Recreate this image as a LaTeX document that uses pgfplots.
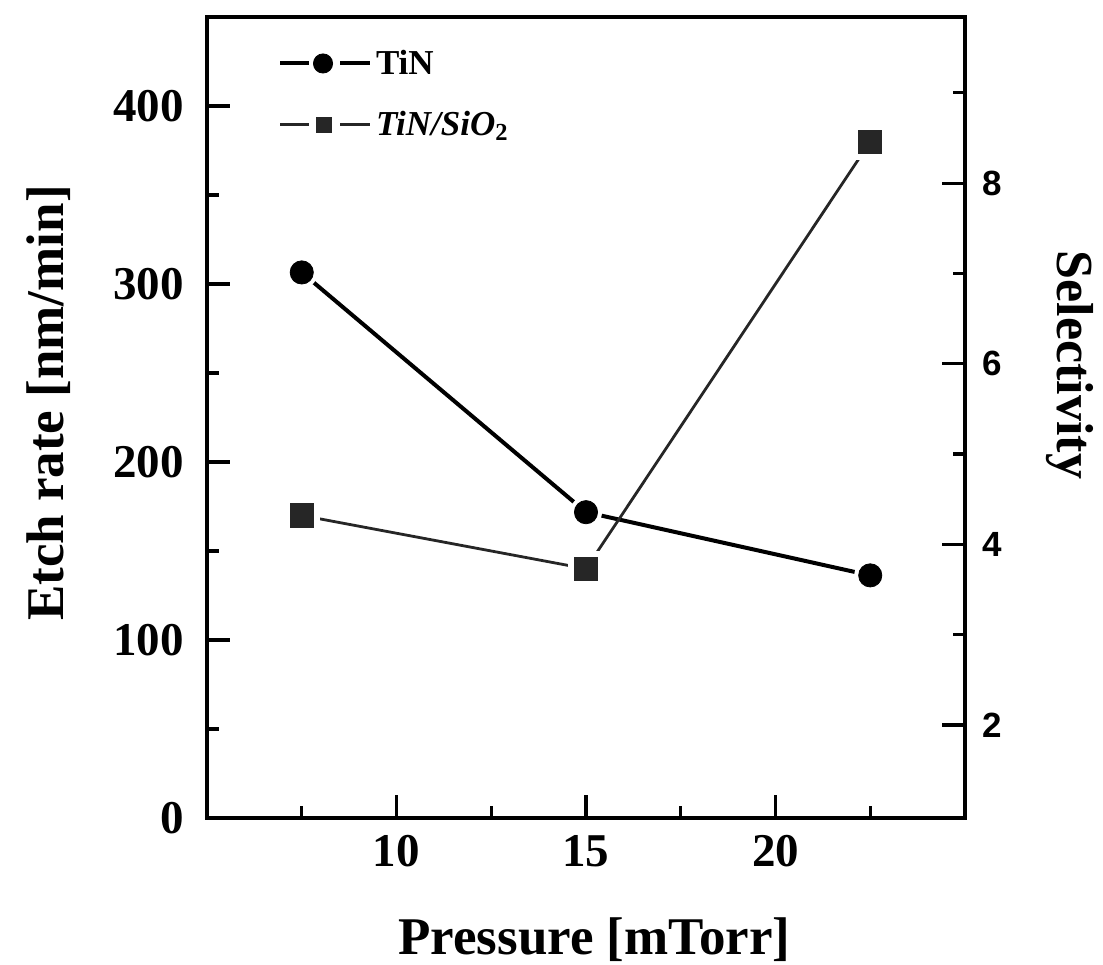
\documentclass[border=0pt]{standalone}
\usepackage{fontspec}
\setmainfont{Liberation Serif}
\newfontfamily\arialfont{Liberation Sans}
\usepackage{pgfplots}
\pgfplotsset{compat=1.18}
\usepackage{pgfplotstable}

% Etch rate of TiN [nm/min] versus pressure [mTorr]
\pgfplotstableread{
p rate
7.5  306.5
15   171.8
22.5 136.3
}\tinrate
% TiN/SiO2 etch selectivity versus pressure [mTorr]
\pgfplotstableread{
p sel
7.5  4.32
15   3.73
22.5 8.46
}\selectivity

\begin{document}
\begin{tikzpicture}
\pgfplotsset{
  common/.style={
    scale only axis, width=379pt, height=400.5pt,
    xmin=5, xmax=25,
    axis line style={line width=1.8pt},
    tick style={line width=1.6pt, black},
    major tick length=11.5pt, minor tick length=6pt,
    tick align=inside,
    /pgf/number format/assume math mode=true,
  }
}
\begin{axis}[common, name=ax,
  ymin=0, ymax=450,
  xtick={10,15,20}, minor xtick={7.5,12.5,17.5,22.5},
  ytick={0,100,200,300,400}, minor ytick={50,150,250,350},
  xtick pos=bottom, ytick pos=left,
  ticklabel style={font=\bfseries\fontsize{23.5}{23.5}\selectfont},
  xticklabel style={yshift=-5pt},
  yticklabel style={xshift=-8pt},
  xlabel={Pressure [mTorr]},
  ylabel={Etch rate [nm/min]},
  label style={font=\bfseries\fontsize{26.5}{26.5}\selectfont},
  xlabel style={at={(axis description cs:0.511,-0.152)}, anchor=center},
  ylabel style={at={(axis description cs:-0.2084,0.518)}, anchor=center},
]
  % line, then a white halo round each symbol, then the symbol
  \addplot[black, line width=2pt, no markers] table[x=p, y=rate] {\tinrate};
  \addplot[only marks, mark=*, mark size=7.5pt, mark options={draw=white, fill=white, line width=1pt}] table[x=p, y=rate] {\tinrate};
  \addplot[only marks, mark=*, mark size=5.8pt, mark options={draw=black, fill=black, line width=0.4pt}] table[x=p, y=rate] {\tinrate};
\end{axis}

\begin{axis}[common,
  ymin=0.97, ymax=9.84,
  axis x line=none, axis y line*=right,
  ytick={2,4,6,8}, minor ytick={3,5,7,9},
  yticklabel pos=right,
  yticklabel style={font=\arialfont\bfseries\fontsize{17.5}{17.5}\selectfont, anchor=west, xshift=5pt},
  ylabel={Selectivity},
  ylabel style={font=\bfseries\fontsize{26}{26}\selectfont,
    at={(axis description cs:1.1385,0.5655)}, anchor=center, rotate=180},
  legend style={draw=none, fill=none, at={(rel axis cs:0.0937,0.964)}, anchor=north west,
    inner sep=0pt, outer sep=0pt, row sep=13pt,
    font=\bfseries\fontsize{17.5}{17.5}\selectfont},
  legend cell align=left,
]
  \addplot[black!85, line width=1.4pt, no markers, forget plot] table[x=p, y=sel] {\selectivity};
  \addplot[only marks, mark=square*, mark size=8.5pt, mark options={draw=white, fill=white, line width=1pt}, forget plot] table[x=p, y=sel] {\selectivity};
  \addplot[only marks, mark=square*, mark size=5.8pt, mark options={draw=black!85, fill=black!85, line width=0.4pt}, forget plot] table[x=p, y=sel] {\selectivity};

  \addlegendimage{legend image code/.code={
    \draw[black, line width=2pt] (0pt,0pt) -- (14.5pt,0pt) (30pt,0pt) -- (45pt,0pt);
    \fill[black] (21.5pt,0pt) circle (4.8pt);}}
  \addlegendentry{TiN}
  \addlegendimage{legend image code/.code={
    \draw[black!85, line width=1.3pt] (0pt,0pt) -- (14.5pt,0pt) (30pt,0pt) -- (45pt,0pt);
    \fill[black!85] (18pt,-3.75pt) rectangle (25.5pt,3.75pt);}}
  \addlegendentry{\itshape TiN/SiO\textsubscript{\upshape 2}}
\end{axis}

\pgfresetboundingbox
\path ([shift={(-103.5pt,-73pt)}]ax.south west) rectangle ++(551.5pt,482pt);
\end{tikzpicture}
\end{document}
